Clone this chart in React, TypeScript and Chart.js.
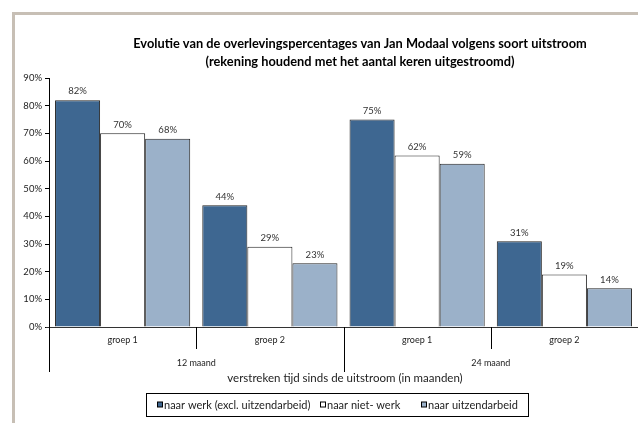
import React, { useEffect, useRef } from "react";
import { Chart, registerables } from "chart.js";

Chart.register(...registerables);

const groups = ["groep 1", "groep 2", "groep 1", "groep 2"];
const periods = ["12 maand", "24 maand"];
const seriesNames = ["naar werk (excl. uitzendarbeid)", "naar niet- werk", "naar uitzendarbeid"];
const werkValues = [82, 44, 75, 31];
const nietWerk = [70, 29, 62, 19];
const uitzend = [68, 23, 59, 14];
const yTicks = [0, 10, 20, 30, 40, 50, 60, 70, 80, 90];
const titleLines = [
  "Evolutie van de overlevingspercentages van Jan Modaal volgens soort uitstroom",
  "(rekening houdend met het aantal keren uitgestroomd)",
];
const xTitle = "verstreken tijd sinds de uitstroom (in maanden)";

const colors = ["#3e6791", "#ffffff", "#9bb1c9"];
const FONT = "Lato, 'Open Sans', sans-serif";

const overlay = {
  id: "overlay",
  afterDraw(chart: any) {
    const ctx = chart.ctx as CanvasRenderingContext2D;
    const x = chart.scales.x;
    const area = chart.chartArea;
    const bottom = area.bottom;
    ctx.save();
    // axis line
    ctx.strokeStyle = "#333";
    ctx.lineWidth = 1;
    ctx.beginPath();
    ctx.moveTo(46, Math.round(bottom) + 0.5);
    ctx.lineTo(chart.width, Math.round(bottom) + 0.5);
    ctx.stroke();
    // boundaries
    const n = groups.length;
    const half = (x.getPixelForValue(1) - x.getPixelForValue(0)) / 2;
    for (let i = 0; i <= n; i++) {
      const px = i < n ? x.getPixelForValue(i) - half : x.getPixelForValue(n - 1) + half;
      const long = i % 2 === 0;
      ctx.beginPath();
      ctx.moveTo(Math.round(px) + 0.5, bottom);
      ctx.lineTo(Math.round(px) + 0.5, bottom + (long ? 45 : 22));
      ctx.strokeStyle = "#000";
      ctx.stroke();
    }
    ctx.fillStyle = "#222";
    ctx.textAlign = "center";
    ctx.textBaseline = "middle";
    ctx.font = `9px ${FONT}`;
    groups.forEach((g, i) => ctx.fillText(g, x.getPixelForValue(i), bottom + 13));
    periods.forEach((p, i) => {
      const c = (x.getPixelForValue(2 * i) + x.getPixelForValue(2 * i + 1)) / 2;
      ctx.fillText(p, c, bottom + 36);
    });
    ctx.font = `11.5px ${FONT}`;
    ctx.fillText(xTitle, 345, bottom + 51);
    // title
    ctx.font = `bold 12.8px ${FONT}`;
    ctx.fillStyle = "#000";
    ctx.fillText(titleLines[0], 360, 44);
    ctx.fillText(titleLines[1], 360, 62);
    // data labels
    ctx.font = `9.5px ${FONT}`;
    ctx.fillStyle = "#333";
    ctx.textBaseline = "bottom";
    chart.data.datasets.forEach((ds: any, di: number) => {
      const meta = chart.getDatasetMeta(di);
      meta.data.forEach((bar: any, i: number) => {
        ctx.fillText(`${ds.data[i]}%`, bar.x, bar.y - 4);
      });
    });
    // legend
    const lx = 146, ly = 393, lw = 382, lh = 23;
    ctx.strokeStyle = "#000";
    ctx.strokeRect(lx + 0.5, ly + 0.5, lw, lh);
    const itemX = [160, 323, 424];
    ctx.font = `11px ${FONT}`;
    ctx.textAlign = "left";
    ctx.textBaseline = "middle";
    const cy = ly + lh / 2 + 0.5;
    seriesNames.forEach((s, i) => {
      ctx.fillStyle = colors[i];
      ctx.fillRect(itemX[i] - 2.5, cy - 3, 5, 5);
      ctx.strokeStyle = "#000";
      ctx.strokeRect(itemX[i] - 2.5, cy - 3, 5, 5);
      ctx.fillStyle = "#222";
      ctx.fillText(s, itemX[i] + 4, cy);
    });
    ctx.restore();
  },
};

export default function App() {
  const ref = useRef<HTMLCanvasElement>(null);
  useEffect(() => {
    const chart = new Chart(ref.current!, {
      type: "bar",
      data: {
        labels: groups,
        datasets: [
          { label: seriesNames[0], data: werkValues, backgroundColor: colors[0] },
          { label: seriesNames[1], data: nietWerk, backgroundColor: colors[1] },
          { label: seriesNames[2], data: uitzend, backgroundColor: colors[2] },
        ].map((d) => ({
          ...d,
          borderColor: "#222",
          borderWidth: 1,
          categoryPercentage: 0.918,
          barPercentage: 1,
        })),
      },
      options: {
        responsive: false,
        animation: false,
        layout: { padding: { left: 0, top: 78, right: -1, bottom: 96 } },
        plugins: { legend: { display: false }, title: { display: false }, tooltip: { enabled: false } },
        scales: {
          x: {
            ticks: { display: false },
            grid: { display: false },
            border: { display: false },
            afterFit: (s: any) => {
              s.height = 0;
            },
          },
          y: {
            min: 0,
            max: 90,
            afterBuildTicks: (s: any) => {
              s.ticks = yTicks.map((v) => ({ value: v }));
            },
            ticks: {
              callback: (v: any) => `${v}%`,
              font: { size: 9.5, family: FONT },
              color: "#222",
              padding: 3,
            },
            grid: { drawOnChartArea: false, drawTicks: true, tickLength: 4, color: "#000" },
            border: { display: true, color: "#000" },
            afterFit: (s: any) => {
              s.width = 49;
            },
          },
        },
      },
      plugins: [overlay],
    });
    return () => chart.destroy();
  }, []);
  return (
    <div style={{ position: "fixed", left: 0, top: 0, width: 638, height: 423, background: "#fff", overflow: "hidden" }}>
      <div
        style={{
          position: "absolute",
          left: 12,
          top: 12,
          width: 700,
          height: 500,
          borderLeft: "3px solid #c7bfb5",
          borderTop: "3px solid #c7bfb5",
        }}
      />
      <canvas ref={ref} width={638} height={423} style={{ position: "absolute", left: 0, top: 0 }} />
    </div>
  );
}
